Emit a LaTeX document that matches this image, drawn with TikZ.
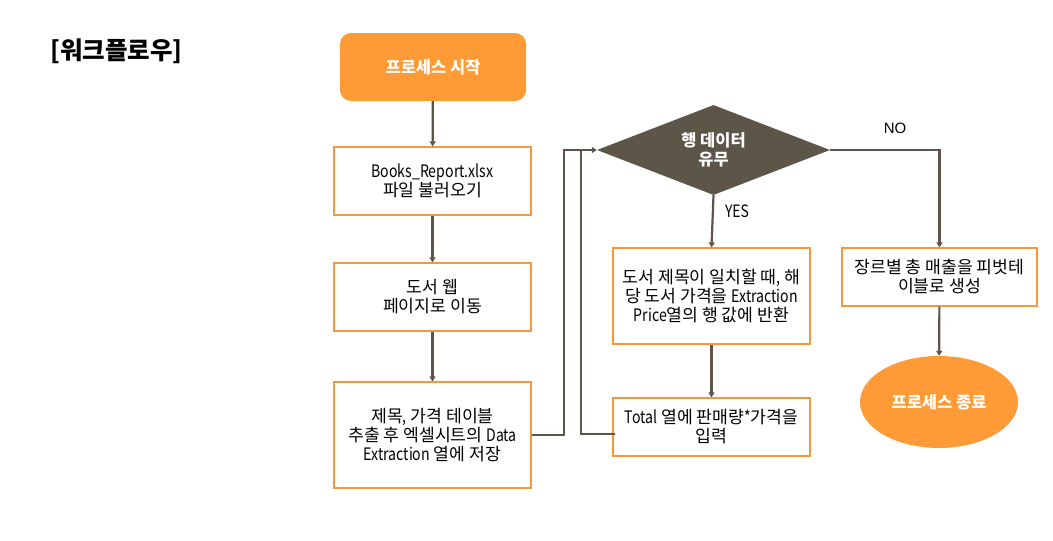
\documentclass[tikz,border=0pt]{standalone}
\usepackage{fontspec}
\setmainfont{Noto Sans CJK KR}
\newfontfamily\latf[FakeStretch=0.82]{Noto Sans CJK KR}
\newfontfamily\arialf{Liberation Sans}
\newcommand{\lt}[1]{{\latf #1}}
\usetikzlibrary{shapes.geometric,arrows.meta,calc}
\definecolor{orng}{HTML}{FF9B37}
\definecolor{bord}{HTML}{F7963B}
\definecolor{conn}{HTML}{5E5548}
\definecolor{dia}{HTML}{5D5548}
\tikzset{
  procbox/.style={draw=bord, line width=1.2pt, fill=white, align=center, font=\fontsize{17.2}{19}\selectfont, inner sep=0pt, minimum width=197pt},
  term/.style={fill=orng, text=white, font=\bfseries\fontsize{16.5}{19}\selectfont, align=center},
  link/.style={draw=conn, line width=2.2pt},
  arr/.style={link, -{Triangle[length=5pt,width=6pt]}},
  lbl/.style={font=\fontsize{15}{16}\selectfont}
}
\begin{document}
\begin{tikzpicture}[x=1pt,y=-1pt]
\useasboundingbox (0,0) rectangle (1053,541);
\node[font=\bfseries\fontsize{24.5}{28}\selectfont, anchor=west, inner sep=0pt] (title) at (50,51) {[워크플로우]};
\node[term, rounded corners=11pt, minimum width=186pt, minimum height=68pt] (start) at (433,67) {프로세스 시작};
\node[procbox, minimum height=68pt] (b1) at (432.5,181) {\lt{Books\_Report.xlsx}\\파일 불러오기};
\node[procbox, minimum height=68pt] (b2) at (432.5,297) {도서 웹\\페이지로 이동};
\node[procbox, minimum height=106pt] (b3) at (432.5,435) {제목\lt{,} 가격 테이블\\추출 후 엑셀시트의 \lt{Data}\\\lt{Extraction} 열에 저장};
\node[diamond, fill=dia, text=white, font=\bfseries\fontsize{16.5}{19}\selectfont, align=center, inner sep=0pt, aspect=2.59, minimum width=233pt, minimum height=90pt] (dia) at (713.5,150) {행 데이터\\유무};
\node[procbox, minimum height=96pt] (b4) at (711.5,296) {도서 제목이 일치할 때\lt{,} 해\\당 도서 가격을 \lt{Extraction}\\\lt{Price}열의 행 값에 반환};
\node[procbox, minimum height=58pt] (b5) at (711.5,427) {\lt{Total} 열에 판매량\lt{*}가격을\\입력};
\node[procbox, minimum width=195pt, minimum height=58pt] (b6) at (939.5,277) {장르별 총 매출을 피벗테\\이블로 생성};
\node[ellipse, term, minimum width=158pt, minimum height=92pt, inner sep=0pt] (end) at (939,402) {프로세스 종료};
\node[lbl, font=\arialf\fontsize{15}{16}\selectfont] (no) at (895,128) {NO};
\node[lbl, font=\latf\fontsize{17}{18}\selectfont] (yes) at (737,211) {YES};
\coordinate (j) at (581,150);
\draw[arr] (start) -- (b1);
\draw[arr] (b1) -- (b2);
\draw[arr] (b2) -- (b3);
\draw[arr] (b3.east) -- ++(32,0) |- (dia.west);
\draw[link] ($(b5.west)+(3,7)$) -| (j);
\draw[arr] (dia.south) -- (b4.north);
\draw[arr] (b4) -- (b5);
\draw[arr] (dia.east) -| (b6.north);
\draw[arr] (b6) -- (end);
\end{tikzpicture}
\end{document}
